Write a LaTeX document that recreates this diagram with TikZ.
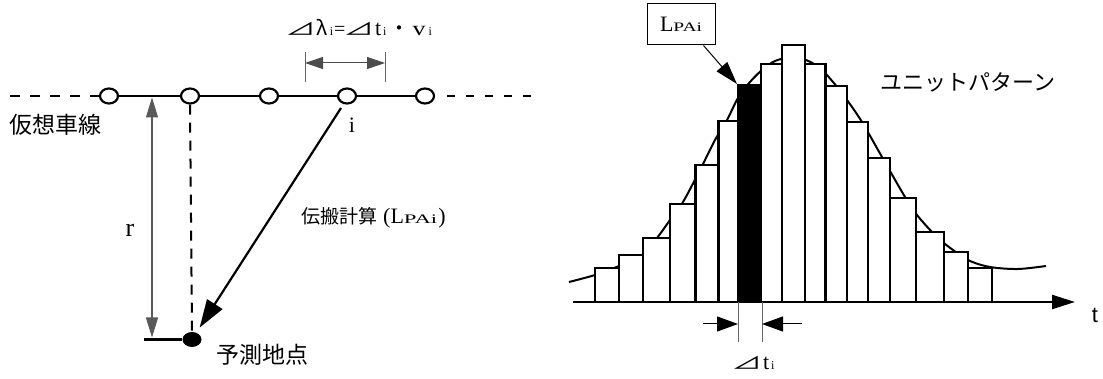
\documentclass[tikz,border=0pt]{standalone}
\usepackage{fontspec}
\usepackage{graphicx}
\setmainfont{Liberation Serif}
\newfontfamily\cjk{Noto Sans CJK JP}
\newfontfamily\arialt{Liberation Sans}
\usetikzlibrary{arrows.meta,shapes.geometric}
\newcommand\mysub[1]{{\fontsize{12}{12}\selectfont #1}}
\newcommand\mysubw[2][1.5]{\scalebox{#1}[1]{\fontsize{13}{13}\selectfont #2}}
\newcommand\mytri{{\fontsize{17}{17}\selectfont\cjk\scalebox{1.8}[1]{⊿}}}
\begin{document}
\begin{tikzpicture}[x=1pt,y=-1pt,
  thickln/.style={line width=2.7pt},
  lanept/.style={ellipse, draw, line width=2.2pt, fill=white, minimum width=18pt, minimum height=15pt, inner sep=0pt},
  thinln/.style={line width=1pt, draw=black!60},
  lbl/.style={inner sep=0pt},
  bar/.style={draw, line width=2.5pt, fill=white},
  tipA/.style={{Triangle[length=18pt,width=12pt]}-{Triangle[length=18pt,width=12pt]}},
  tipR/.style={{Triangle[length=20pt,width=12pt]}-{Triangle[length=20pt,width=12pt]}},
  tipD/.style={-{Triangle[length=21pt,width=15pt]}}
]
\useasboundingbox (0,0) rectangle (1103,379);

% ---------- left panel ----------
\coordinate (ldash) at (10,96);
\coordinate (rdash0) at (447,96);
\coordinate (rdash1) at (531,96);
\node[lanept] (c1) at (109,96) {};
\node[lanept] (c2) at (190,96) {};
\node[lanept] (c3) at (269,96) {};
\node[lanept] (c4) at (347,96) {};
\node[lanept] (c5) at (425,96) {};
\draw[line width=2pt, dash pattern=on 10pt off 10pt] (ldash) -- (c1.west);
\draw[line width=2pt, dash pattern=on 8pt off 11pt] (rdash0) -- (rdash1);
\draw[thickln] (c1.east) -- (c2.west) (c2.east) -- (c3.west) (c3.east) -- (c4.west) (c4.east) -- (c5.west);

\node[ellipse, fill=black, minimum width=19pt, minimum height=15pt, inner sep=0pt] (P) at (192,339.5) {};
\coordinate (hl) at (144,339.5);
\draw[thickln] (hl) -- (P);
\draw[line width=2pt, dash pattern=on 10pt off 8pt] (c2.south) -- (P.north);

\coordinate (rtop) at (152,97.5);
\coordinate (rbot) at (152,337.5);
\draw[line width=1.1pt, draw=black!65, tipR] (rtop) -- (rbot);

\coordinate (istart) at (341,108);
\draw[line width=2.2pt, -{Triangle[length=28pt,width=18pt]}, shorten >=6pt] (istart) -- (P);

\coordinate (d1a) at (305,52); \coordinate (d1b) at (305,82);
\coordinate (d2a) at (385,52); \coordinate (d2b) at (385,82);
\draw[thinln] (d1a) -- (d1b) (d2a) -- (d2b);
\coordinate (dm1) at (305,63); \coordinate (dm2) at (385,63);
\draw[line width=1pt, draw=black!70, tipA] (dm1) -- (dm2);

\node[lbl, anchor=west] (dlam) at (285,28) {\fontsize{20}{20}\selectfont\mytri\hspace{1pt}{\cjk λ}\hspace{2pt}\mysub{i}\hspace{1pt}=\hspace{-2pt}\mytri\hspace{1pt}{\fontsize{22}{22}\selectfont t}\hspace{2pt}\mysub{i}\hspace{3pt}{\cjk ・}\hspace{3pt}\scalebox{1.3}[1]{v}\hspace{3pt}\mysub{i}};
\node[lbl, anchor=west] (lane) at (9,125) {\fontsize{23}{23}\selectfont\cjk 仮想車線};
\node[lbl] (ri) at (352,125) {\fontsize{22}{22}\selectfont i};
\node[lbl] (rr) at (130,230) {\fontsize{26}{26}\selectfont r};
\node[lbl, anchor=west] (prop) at (301,218) {\fontsize{19}{19}\selectfont{\cjk 伝搬計算}\hspace{6pt}{\fontsize{22}{22}\selectfont(L}\mysubw[1.75]{PAi}\hspace{1pt}{\fontsize{22}{22}\selectfont)}};
\node[lbl] (pred) at (262,355) {\fontsize{23}{23}\selectfont\cjk 予測地点};

% ---------- right panel ----------
\draw[line width=2pt] plot[smooth, tension=0.5] coordinates {(569,282) (595,275) (619,266) (642,255) (657,238) (670,220) (683,202) (700,170) (715,140) (727,120) (738,98) (750,82) (762,70) (775,61) (792,57) (806,60) (820,68) (833,82) (847,100) (862,122) (882,157) (905,197) (917,215) (932,232) (945,244) (968,260) (990,267) (1018,269) (1046,266)};

\foreach \a/\b/\t in {595/619/268, 619/643/255, 643/670/238, 670/695.5/204, 695.5/718.5/165, 718.5/738/121, 761/782/64, 782/805/45, 805/825.5/64, 825.5/847/86, 847/868/122, 868/890/158, 890/916/198, 916/944/232, 944/968/252, 968/992/268}
  \draw[bar] (\a,302) rectangle (\b,\t);
\draw[bar, fill=black] (738,302) rectangle (761,85);
\coordinate (bk) at (737,84);

\coordinate (ax0) at (573,302);
\coordinate (ax1) at (1075,302);
\draw[line width=2.2pt, -{Triangle[length=23pt,width=14pt]}] (ax0) -- (ax1);
\node[lbl] (tt) at (1095,315) {\fontsize{22}{22}\selectfont\arialt t};

\node[draw, line width=1pt, minimum width=68pt, minimum height=41pt, inner sep=0pt] (L) at (681,24.5) {\fontsize{22}{22}\selectfont L\mysubw{PAi}};
\draw[line width=1pt, -{Triangle[length=23pt,width=14pt]}] (L.-43) -- (bk);

\coordinate (t1a) at (738,302); \coordinate (t1b) at (738,342);
\coordinate (t2a) at (762,302); \coordinate (t2b) at (762,342);
\draw[thinln] (t1a) -- (t1b) (t2a) -- (t2b);
\coordinate (al0) at (703,324); \coordinate (al1) at (738,324);
\coordinate (ar0) at (802,324); \coordinate (ar1) at (762,324);
\draw[line width=1pt, tipD] (al0) -- (al1);
\draw[line width=1pt, tipD] (ar0) -- (ar1);
\node[lbl] (dti) at (753,363) {\fontsize{20}{20}\selectfont\mytri\hspace{1pt}{\fontsize{22}{22}\selectfont t}\hspace{2pt}\mysub{i}};

\node[lbl] (unit) at (968,82) {\fontsize{22}{22}\selectfont\cjk ユニットパターン};
\end{tikzpicture}
\end{document}
